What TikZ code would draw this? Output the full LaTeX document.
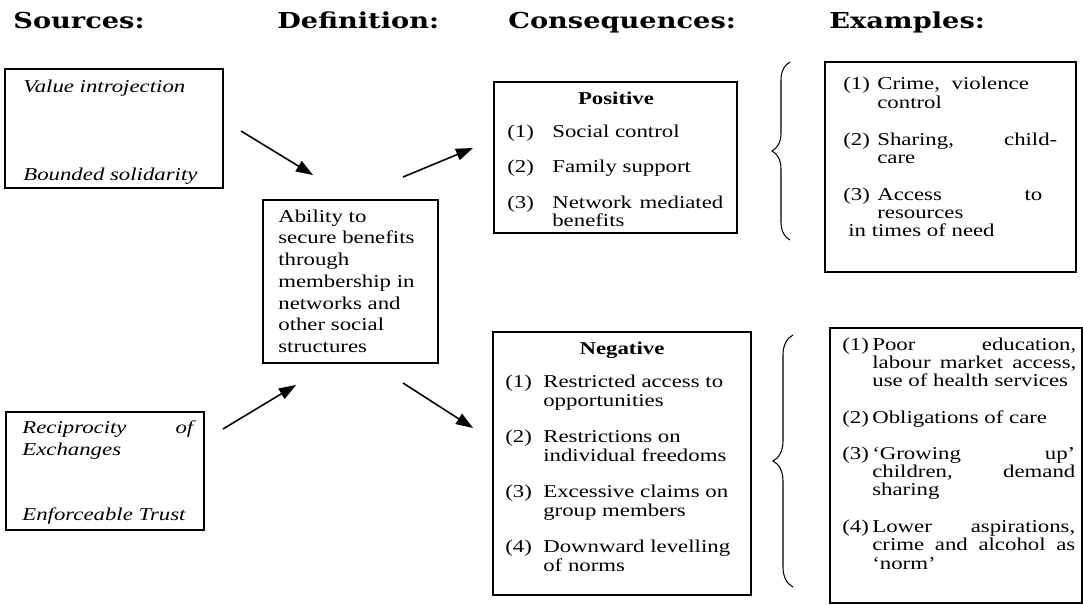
\documentclass[tikz,border=0pt]{standalone}
\usepackage{fontspec}
\setmainfont{Liberation Serif}[FakeStretch=1.26]
\newfontfamily\headfont{DejaVu Serif}[FakeStretch=1.24]
\usetikzlibrary{arrows.meta,fit,decorations.pathreplacing}

\begin{document}
\begin{tikzpicture}[x=0.02cm, y=-0.02cm,
  frame/.style={draw=black, line width=0.7pt, inner sep=0pt},
  txt/.style={inner sep=0pt, anchor=base west, font=\fontsize{10.3}{10.3}\selectfont},
  head/.style={inner sep=0pt, anchor=base west, font=\headfont\bfseries\fontsize{12.5}{15}\selectfont},
  link/.style={line width=0.9pt, -{Triangle[length=3.4mm,width=2.4mm]}},
  curly/.style={decorate, decoration={brace, amplitude=#1}, line width=0.6pt}]

\useasboundingbox (0,0) rectangle (1083,605);

% column heads
\node[head] (hsrc) at (13,29) {Sources:};
\node[head] (hdef) at (277,29) {Definition:};
\node[head] (hcon) at (508,29) {Consequences:};
\node[head] (hex) at (829,29) {Examples:};

% boxes
\node[frame, fit={(5,69) (223,188)}] (src1) {};
\node[frame, fit={(6,412) (204,530)}] (src2) {};
\node[frame, fit={(263,200) (438,363)}] (def) {};
\node[frame, fit={(494,82) (737,233)}] (pos) {};
\node[frame, fit={(493,332) (751,595)}] (neg) {};
\node[frame, fit={(825,62) (1076,272)}] (ex1) {};
\node[frame, fit={(830,328) (1082,603)}] (ex2) {};

% sources
\node[txt] (tval) at (23,92) {\itshape Value introjection};
\node[txt] (tbnd) at (23,180) {\itshape Bounded solidarity};
\node[txt, font=\fontsize{10.3}{13}\selectfont] (trec) at (22,433) {\itshape
  \begin{tabular}[t]{@{}l@{}}
  \makebox[3.42cm][s]{Reciprocity of}\\
  Exchanges\\[0.84cm]
  Enforceable Trust
  \end{tabular}};

% definition
\node[txt, font=\fontsize{10.3}{12.4}\selectfont] (tdef) at (278,222) {%
  \begin{tabular}[t]{@{}l@{}}
  Ability to\\ secure benefits\\ through\\ membership in\\
  networks and\\ other social\\ structures
  \end{tabular}};

% consequences
\node[txt, anchor=base, font=\fontsize{10.3}{10.3}\selectfont\bfseries] (tpos) at (616,104) {Positive};
\node[txt] (lpos) at (507,137) {%
  \begin{tabular}[t]{@{}p{0.9cm}@{}l@{}}
  (1) & Social control\\[0.35cm]
  (2) & Family support\\[0.35cm]
  (3) & \makebox[3.42cm][s]{Network mediated}\\
      & benefits
  \end{tabular}};

\node[txt, anchor=base, font=\fontsize{10.3}{10.3}\selectfont\bfseries] (tneg) at (622,354) {Negative};
\node[txt, font=\fontsize{10.3}{11.1}\selectfont] (lneg) at (505,387) {%
  \begin{tabular}[t]{@{}p{0.76cm}@{}l@{}}
  (1) & Restricted access to\\ & opportunities\\[0.32cm]
  (2) & Restrictions on\\ & individual freedoms\\[0.32cm]
  (3) & Excessive claims on\\ & group members\\[0.32cm]
  (4) & Downward levelling\\ & of norms
  \end{tabular}};

% examples
\node[txt] (lex1) at (843,90) {%
  \begin{tabular}[t]{@{}p{0.68cm}@{}l@{}}
  (1) & Crime,\hspace{0.12cm} violence\\ & control\\[0.38cm]
  (2) & \makebox[3.6cm][s]{Sharing, child-}\\ & care\\[0.38cm]
  (3) & \makebox[3.3cm][s]{Access to}\\ & resources\\
  \multicolumn{2}{@{}l@{}}{\hspace*{0.1cm}in times of need}
  \end{tabular}};

\node[txt] (lex2) at (842,350) {%
  \begin{tabular}[t]{@{}p{0.6cm}@{}l@{}}
  (1) & \makebox[4.08cm][s]{Poor education,}\\
      & \makebox[4.08cm][s]{labour market access,}\\
      & use of health services\\[0.38cm]
  (2) & Obligations of care\\[0.36cm]
  (3) & \makebox[4.06cm][s]{`Growing up'}\\
      & \makebox[4.06cm][s]{children, demand}\\
      & sharing\\[0.38cm]
  (4) & \makebox[4.06cm][s]{Lower aspirations,}\\
      & \makebox[4.06cm][s]{crime and alcohol as}\\
      & `norm'
  \end{tabular}};

% arrows
\coordinate (a1s) at (241,131); \coordinate (a1e) at (313,175);
\coordinate (a2s) at (403,177); \coordinate (a2e) at (473,148);
\coordinate (a3s) at (223,429); \coordinate (a3e) at (296,385);
\coordinate (a4s) at (403,383); \coordinate (a4e) at (473,428);
\draw[link] (a1s) -- (a1e);
\draw[link] (a2s) -- (a2e);
\draw[link] (a3s) -- (a3e);
\draw[link] (a4s) -- (a4e);

% braces
\coordinate (b1t) at (790,62); \coordinate (b1b) at (790,240);
\coordinate (b2t) at (793,335); \coordinate (b2b) at (793,587);
\draw[curly=0.36cm] (b1b) -- (b1t);
\draw[curly=0.4cm] (b2b) -- (b2t);

\end{tikzpicture}
\end{document}
